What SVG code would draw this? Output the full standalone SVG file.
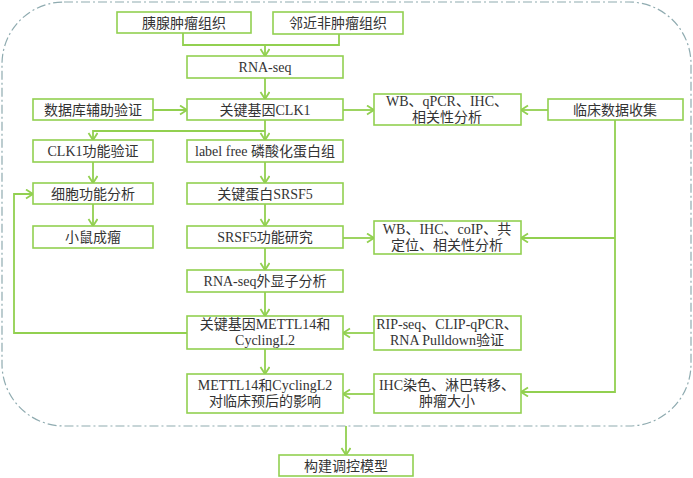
<svg xmlns="http://www.w3.org/2000/svg" width="693" height="478" viewBox="0 0 693 478">
<defs>
<marker id="arr" markerUnits="userSpaceOnUse" markerWidth="12" markerHeight="12" refX="9" refY="5" orient="auto">
<path d="M2,0.5 L9,5 L2,9.5" fill="none" stroke="#92d050" stroke-width="1.8"/>
</marker>
<style>
.b{fill:#fff;stroke:#92d050;stroke-width:1.6}
.t{font-family:"Liberation Serif","Noto Sans CJK SC",serif;font-size:14px;fill:#333;text-anchor:middle}
.c{fill:none;stroke:#92d050;stroke-width:1.8}
.a{marker-end:url(#arr)}
</style>
</defs>
<rect x="2" y="2" width="689" height="424" rx="62" ry="62" fill="none" stroke="#8fabb0" stroke-width="1.2" stroke-dasharray="9,3,2,3"/>
<g id="connectors">
<polyline class="c" points="183,33 183,45 339,45 339,34"/>
<line class="c a" x1="265" y1="45" x2="265" y2="56"/>
<line class="c a" x1="265" y1="78" x2="265" y2="99"/>
<line class="c a" x1="153" y1="110" x2="187" y2="110"/>
<line class="c a" x1="343" y1="110" x2="374" y2="110"/>
<line class="c a" x1="548" y1="110" x2="521" y2="110"/>
<polyline class="c a" points="615,120 615,392 521,392"/>
<line class="c a" x1="615" y1="238" x2="521" y2="238"/>
<line class="c a" x1="265" y1="120" x2="265" y2="140"/>
<polyline class="c a" points="265,131 93,131 93,140"/>
<line class="c a" x1="93" y1="162" x2="93" y2="183"/>
<line class="c a" x1="93" y1="204" x2="93" y2="226"/>
<line class="c a" x1="265" y1="162" x2="265" y2="183"/>
<line class="c a" x1="265" y1="204" x2="265" y2="226"/>
<line class="c a" x1="265" y1="248" x2="265" y2="270"/>
<line class="c a" x1="265" y1="292" x2="265" y2="316"/>
<line class="c a" x1="265" y1="349" x2="265" y2="374"/>
<line class="c a" x1="343" y1="238" x2="374" y2="238"/>
<line class="c a" x1="374" y1="333" x2="343" y2="333"/>
<line class="c a" x1="374" y1="394" x2="343" y2="394"/>
<polyline class="c a" points="187,333 14,333 14,194 33,194"/>
<line class="c a" x1="346" y1="426" x2="346" y2="455"/>
</g>
<g id="n1"><rect class="b" x="117" y="12" width="134" height="21"/><text class="t" x="184" y="27.5">胰腺肿瘤组织</text></g>
<g id="n2"><rect class="b" x="273" y="12" width="130" height="22"/><text class="t" x="338" y="27.5">邻近非肿瘤组织</text></g>
<g id="n3"><rect class="b" x="187" y="56" width="156" height="22"/><text class="t" x="265" y="72">RNA-seq</text></g>
<g id="n4"><rect class="b" x="187" y="99" width="156" height="21"/><text class="t" x="265" y="114.5">关键基因CLK1</text></g>
<g id="n5"><rect class="b" x="33" y="99" width="120" height="21"/><text class="t" x="93" y="114.5">数据库辅助验证</text></g>
<g id="n6"><rect class="b" x="374" y="94" width="147" height="31"/><text class="t" x="447" y="106">WB、qPCR、IHC、</text><text class="t" x="447" y="122">相关性分析</text></g>
<g id="n7"><rect class="b" x="548" y="99" width="135" height="21"/><text class="t" x="615" y="114.5">临床数据收集</text></g>
<g id="n8"><rect class="b" x="33" y="140" width="120" height="22"/><text class="t" x="93" y="156">CLK1功能验证</text></g>
<g id="n9"><rect class="b" x="187" y="140" width="156" height="22"/><text class="t" x="265" y="156">label free 磷酸化蛋白组</text></g>
<g id="n10"><rect class="b" x="33" y="183" width="120" height="21"/><text class="t" x="93" y="198.5">细胞功能分析</text></g>
<g id="n11"><rect class="b" x="187" y="183" width="156" height="21"/><text class="t" x="265" y="198.5">关键蛋白SRSF5</text></g>
<g id="n12"><rect class="b" x="33" y="226" width="120" height="22"/><text class="t" x="93" y="242">小鼠成瘤</text></g>
<g id="n13"><rect class="b" x="187" y="226" width="156" height="22"/><text class="t" x="265" y="242">SRSF5功能研究</text></g>
<g id="n14"><rect class="b" x="374" y="221" width="147" height="33"/><text class="t" x="447" y="234">WB、IHC、coIP、共</text><text class="t" x="447" y="250">定位、相关性分析</text></g>
<g id="n15"><rect class="b" x="187" y="270" width="156" height="22"/><text class="t" x="265" y="286">RNA-seq外显子分析</text></g>
<g id="n16"><rect class="b" x="187" y="316" width="156" height="33"/><text class="t" x="265" y="329">关键基因METTL14和</text><text class="t" x="265" y="345">CyclingL2</text></g>
<g id="n17"><rect class="b" x="374" y="316" width="147" height="34"/><text class="t" x="447" y="329">RIP-seq、CLIP-qPCR、</text><text class="t" x="447" y="345">RNA Pulldown验证</text></g>
<g id="n18"><rect class="b" x="187" y="374" width="156" height="39"/><text class="t" x="265" y="390">METTL14和CyclingL2</text><text class="t" x="265" y="406">对临床预后的影响</text></g>
<g id="n19"><rect class="b" x="374" y="374" width="147" height="39"/><text class="t" x="447" y="390">IHC染色、淋巴转移、</text><text class="t" x="447" y="406">肿瘤大小</text></g>
<g id="n20"><rect class="b" x="279" y="455" width="134" height="21"/><text class="t" x="346" y="470.5">构建调控模型</text></g>
</svg>
